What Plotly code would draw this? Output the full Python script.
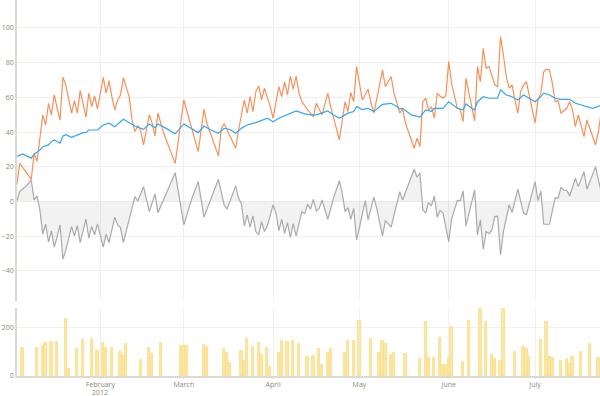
import plotly.graph_objects as go
import pandas as pd

# ---- data (day of year 2012, value) ----
orange_day = [3,4,8,9,10,12,13,14,15,16,17,18,19,20,22,23,24,25,27,28,
              29,30,31,32,33,34,35,36,37,38,39,40,42,43,44,45,46,47,49,50,
              51,52,53,54,58,61,66,68,69,73,74,75,79,80,82,83,84,85,86,87,
              88,89,91,92,94,95,96,97,98,99,100,101,102,104,106,107,109,111,112,115,
              117,118,119,120,121,122,123,125,126,127,128,129,130,131,133,134,136,137,138,141,
              142,143,144,145,146,147,148,149,150,151,152,153,154,156,157,158,159,160,162,163,
              164,165,166,167,169,170,171,172,173,174,175,176,177,178,179,180,181,182,183,184,
              185,186,187,188,189,190,191,192,193,194,195,196,197,198,200,201,202,204,205,206]
orange_val = [9.6,22,12.8,27.8,23,49.9,44.1,56.6,49.9,61.4,53.7,47,71.6,67.2,50.9,58.1,50.9,63.9,48.6,62.4,
              54.7,60.8,53.3,63.3,71.6,62.4,69.5,60.4,52.8,58.5,61.4,71.4,60.4,47,40.3,43.5,41,32.6,50,45,
              37.8,51,45,39.3,22,58.5,28.7,53.2,45.1,26.3,42,45,30.7,41.2,58.5,50.9,60.4,51.8,63.3,66.6,
              58.5,65.3,54.7,48,66.2,60.4,69,61.4,72.3,64.7,72.3,62.4,57.5,52.8,48.9,56.6,49.9,62.4,54.7,35.5,
              57.5,51.8,62.7,57.5,77.7,67.2,58.5,64.7,56.6,50.9,58.5,67.2,75.8,66.2,71.9,62.4,50.9,53.2,45.1,30.7,
              36.5,31.6,57.5,59.5,52.8,54.7,48,62.4,60.8,59.5,61,80.6,68.1,53.7,53,46,71,62.4,46.4,77.7,
              69,88.3,76.8,77.7,67.2,66.2,95,84.4,71.9,65.3,67.2,58.5,50.9,63.3,67.2,69,60.4,52.8,45.1,58.5,
              62.4,74.8,76.2,75.8,68.1,57.5,58,50.9,52.5,53.7,57.5,52.8,43.1,49.9,37.4,47,42.2,32.6,40.3,52]

blue_day = [3,5,8,9,11,12,14,15,16,18,19,20,22,24,26,27,28,31,33,35,
            37,40,44,47,49,51,52,55,58,61,64,66,68,70,73,75,77,79,81,83,
            85,87,90,92,94,97,100,103,105,107,111,113,115,118,120,121,123,125,127,129,
            130,133,135,136,137,140,142,143,145,147,148,151,153,156,158,159,161,162,163,165,
            167,170,171,173,175,177,179,181,183,185,186,188,190,192,195,197,200,203,206]
blue_val = [25.9,27.4,25,27.2,29.7,31.6,32.6,34.5,35.5,33.6,37.8,38.5,37,38.5,39.7,39.7,41.2,41.2,44.1,45.1,
            43.1,47.4,43.5,41.6,44.7,42.5,44.7,42,39,44.7,41.5,39.7,43.5,41.5,39.3,42.2,41.5,39.3,42.2,44.1,
            45,46,48,46,48,49.9,52.2,50.5,49.9,49.9,52.2,49.9,48,50.9,51.8,54.7,53,53.7,51.8,54.7,
            56,56.6,54.7,53.2,53.7,49.9,49.3,48.6,52.8,52,53.7,53.7,57.5,53.7,52.8,56.2,53.7,52.8,57.5,60.4,
            59.5,59.5,64.3,61.4,60.4,58.5,61.4,59.5,57.5,60.4,62.4,61.4,59.5,58.9,58.9,56.6,55.1,53.7,55.5]

gray_day = [3,4,6,8,9,10,11,12,13,14,15,16,17,18,19,20,22,23,24,25,
            27,28,29,30,31,33,34,35,37,38,39,40,44,45,47,49,51,52,58,61,
            64,66,68,73,75,76,79,80,81,82,83,84,85,86,87,88,89,90,92,93,
            94,95,96,97,98,99,100,102,103,104,105,106,107,108,109,111,113,115,116,117,
            118,119,120,121,122,124,125,127,128,130,131,133,136,137,141,142,143,144,145,146,
            147,148,149,150,151,153,154,156,157,158,159,162,163,164,165,166,167,168,169,170,
            171,172,174,175,177,179,180,183,184,185,186,188,190,191,192,193,194,195,197,198,
            200,201,204,206]
gray_val = [0.3,5.7,8.5,12.4,0.9,3.2,-5,-18.8,-13.1,-23.4,-16.9,-26.3,-20.2,-13.5,-33.2,-28,-14.4,-19.8,-13.9,-23.7,
            -10.2,-21.1,-14.4,-19.2,-12.9,-26.3,-18.8,-23.7,-9,-13.5,-15,-23.7,2.8,0.3,8.6,-5.8,4.4,-6.4,16.6,-13.5,
            2.8,11.5,-9,12.8,-2,-4.4,9,2,-1.4,-14,-7.7,-14.8,-8.3,-17.3,-19.2,-11.6,-17.3,-14,-2,-6.5,
            -16.8,-10.2,-18.3,-12.2,-20.6,-12.9,-19.8,-5.8,-7.1,-1.4,-4.5,1.3,-5.4,-4,0.9,-10.2,2,12,5,-5.8,
            -3.5,-10.2,-3.9,-22.1,-15,0.5,-10.6,2.5,-4,-19.8,-11,-14.8,5.7,0.9,18.6,14,16.6,-4.8,-6.7,-0.6,
            -2.5,3.2,-9,-5.2,-6.5,-23.1,-10,0.5,0.5,6.1,-14,6.7,-19.2,-10.6,-27.5,-17.3,-18.5,-16.4,-8.7,-8.5,
            -30.8,-17.3,-2,-6.4,7.1,-6.7,-7.5,11.5,0.5,6.1,-13.1,-13.1,2.2,2,8,6.5,6.5,3.2,13.4,8.6,
            17.2,7.1,20.1,5]

bar_day = [5,10,12,13,15,17,20,21,24,26,29,31,33,34,36,39,40,41,46,49,
           50,53,60,61,62,68,69,75,76,77,81,82,83,85,87,88,90,91,94,95,
           97,99,101,104,106,108,109,111,112,117,118,120,122,126,129,130,131,133,134,138,
           143,145,146,148,150,151,152,153,154,158,160,164,166,168,169,171,172,176,179,180,
           181,185,187,188,189,192,194,195,196,199,202,205]
bar_val = [116,116,124,134,140,140,234,30,110,148,153,103,134,116,113,97,82,131,64,116,
           90,134,124,122,124,127,120,110,93,55,103,63,152,118,134,85,113,36,96,145,
           138,145,131,77,84,111,45,93,110,93,145,145,226,152,93,145,131,85,93,90,
           70,220,73,73,155,45,45,73,200,56,226,275,220,86,68,62,275,100,120,110,
           77,148,223,79,75,62,68,49,77,97,130,73]

month_ticks = ["2012-02-01", "2012-03-01", "2012-04-01", "2012-05-01", "2012-06-01", "2012-07-01"]
month_text = ["February", "March", "April", "May", "June", "July"]
year_label = "2012"
top_ticks = [-40, -20, 0, 20, 40, 60, 80, 100]
bottom_ticks = [0, 200]

START = pd.Timestamp("2012-01-01")


def to_dates(days):
    return [START + pd.Timedelta(days=d - 1) for d in days]


x_range = [START + pd.Timedelta(days=3.05 - 1), START + pd.Timedelta(days=205.55 - 1)]

fig = go.Figure()
fig.add_trace(go.Scatter(x=to_dates(gray_day), y=gray_val, mode="lines", fill="tozeroy",
                         fillcolor="rgba(0,0,0,0.05)", line=dict(color="#aaaaaa", width=1.2),
                         xaxis="x", yaxis="y", showlegend=False))
fig.add_trace(go.Scatter(x=to_dates(orange_day), y=orange_val, mode="lines",
                         line=dict(color="#f4915a", width=1.2), xaxis="x", yaxis="y", showlegend=False))
fig.add_trace(go.Scatter(x=to_dates(blue_day), y=blue_val, mode="lines",
                         line=dict(color="#33a5f2", width=1.2), xaxis="x", yaxis="y", showlegend=False))
fig.add_trace(go.Bar(x=to_dates(bar_day), y=bar_val, width=0.8 * 86400000,
                     marker=dict(color="#fce8a6", line=dict(color="#f8da82", width=0.8)),
                     xaxis="x2", yaxis="y2", showlegend=False))

tick_font = dict(family="Open Sans, sans-serif", size=7, color="#8f877b")
grid = "#f3f0ec"
axis_line = "#ddd8d0"

fig.update_layout(
    width=600, height=396,
    margin=dict(l=17, r=0, t=0, b=20, autoexpand=False),
    paper_bgcolor="white", plot_bgcolor="white",
    bargap=0,
    xaxis=dict(domain=[0, 1], anchor="y", range=x_range, type="date", automargin=False,
               tickvals=month_ticks, showticklabels=False, ticks="",
               showgrid=True, gridcolor=grid, gridwidth=1, zeroline=False, showline=False),
    yaxis=dict(domain=[0.1995, 1], anchor="x", range=[-57.3, 116.1], automargin=False,
               tickvals=top_ticks, tickfont=tick_font, ticks="",
               showgrid=True, gridcolor=grid, gridwidth=1, zeroline=False,
               showline=True, linecolor=axis_line, linewidth=1.5),
    xaxis2=dict(domain=[0, 1], anchor="y2", range=x_range, type="date", automargin=False,
                tickvals=month_ticks, ticktext=month_text, tickfont=tick_font,
                ticks="outside", ticklen=1, tickcolor=axis_line,
                showgrid=True, gridcolor=grid, gridwidth=1, zeroline=False,
                showline=True, linecolor=axis_line, linewidth=1.5),
    yaxis2=dict(domain=[0, 0.1809], anchor="x2", range=[0, 279], automargin=False,
                tickvals=bottom_ticks, tickfont=tick_font, ticks="",
                showgrid=True, gridcolor=grid, gridwidth=1, zeroline=False,
                showline=True, linecolor=axis_line, linewidth=1.5),
    annotations=[dict(text=year_label, x=month_ticks[0], xref="x2", y=-0.0426, yref="paper",
                      yanchor="middle", xanchor="center", showarrow=False, font=tick_font,
                      borderpad=0, borderwidth=0)],
)

fig.write_html("out.html", config={"displayModeBar": False},
               post_script="document.body.style.margin='0';document.body.style.overflow='hidden';")
